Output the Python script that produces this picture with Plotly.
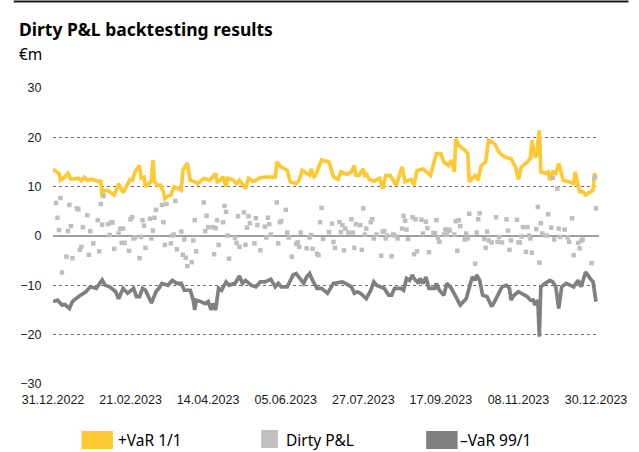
import pandas as pd
import plotly.graph_objects as go

BASE_DATE = "2022-12-31"

# +VaR 1/1 (days since 31.12.2022, EUR m)
var_pos_days = [0, 3, 4, 5, 6, 8, 10, 12, 17, 19, 21, 23, 26, 29, 31, 32, 33, 34, 37, 41, 44, 47, 52, 53, 55, 58, 59, 61, 62, 65, 66, 67, 68, 70, 72, 74, 75, 77, 79, 81, 84, 86, 87, 90, 92, 95, 97, 101, 105, 109, 110, 112, 114, 116, 117, 121, 123, 125, 129, 131, 134, 136, 138, 143, 147, 149, 150, 153, 157, 159, 163, 165, 167, 170, 172, 173, 175, 176, 180, 185, 188, 191, 193, 197, 200, 202, 203, 205, 208, 209, 210, 212, 215, 219, 221, 223, 226, 230, 234, 236, 240, 242, 244, 248, 252, 253, 257, 260, 262, 265, 267, 269, 270, 272, 276, 278, 279, 281, 283, 285, 287, 290, 292, 296, 299, 301, 303, 307, 310, 312, 314, 318, 320, 321, 323, 324, 326, 327, 330, 332, 333, 335, 337, 339, 342, 346, 349, 350, 353, 355, 357, 362, 363, 364]
var_pos_vals = [13.5, 13.0, 12.7, 11.3, 11.5, 12.0, 12.7, 11.5, 11.7, 11.2, 11.9, 11.3, 11.5, 11.1, 11.0, 11.3, 7.8, 9.2, 9.2, 8.3, 10.6, 8.8, 11.7, 11.1, 13.0, 14.3, 11.7, 11.9, 10.0, 10.8, 11.3, 15.4, 11.0, 10.3, 10.3, 9.0, 7.6, 8.1, 8.3, 10.0, 9.6, 9.3, 13.3, 14.8, 11.3, 11.0, 10.6, 11.7, 11.3, 12.7, 11.0, 11.3, 12.0, 10.0, 11.7, 11.3, 10.6, 11.3, 9.6, 11.7, 11.1, 11.3, 11.7, 12.0, 11.9, 12.0, 15.0, 14.0, 13.3, 11.0, 10.6, 11.3, 13.3, 12.7, 12.3, 13.6, 12.0, 12.3, 15.4, 15.0, 12.0, 11.5, 13.0, 12.5, 13.0, 14.3, 12.3, 12.3, 13.6, 12.0, 12.7, 11.5, 11.1, 11.7, 9.6, 12.3, 12.3, 10.3, 14.0, 11.0, 11.5, 10.3, 13.3, 13.6, 12.7, 12.3, 16.7, 16.7, 15.0, 14.3, 15.4, 13.0, 19.7, 18.4, 17.4, 16.7, 11.0, 11.7, 12.3, 11.3, 14.3, 15.0, 19.4, 18.7, 17.0, 16.4, 16.0, 15.7, 14.0, 11.5, 14.0, 15.0, 15.7, 19.4, 16.0, 16.4, 21.4, 13.0, 12.7, 13.0, 11.3, 13.0, 12.7, 14.7, 11.3, 11.0, 10.6, 13.0, 9.0, 9.0, 8.3, 9.3, 12.7, 11.7]

# -VaR 99/1
var_neg_days = [0, 3, 6, 8, 11, 13, 17, 20, 22, 25, 29, 32, 33, 35, 38, 42, 44, 47, 50, 54, 56, 58, 60, 62, 65, 66, 69, 71, 73, 77, 80, 83, 86, 88, 92, 94, 95, 96, 99, 102, 104, 106, 107, 109, 111, 113, 116, 118, 122, 125, 127, 129, 133, 136, 139, 142, 146, 149, 151, 153, 157, 159, 161, 163, 165, 168, 170, 172, 174, 177, 180, 183, 184, 188, 192, 194, 196, 200, 202, 204, 206, 210, 213, 215, 217, 220, 222, 225, 227, 229, 233, 235, 237, 239, 241, 242, 245, 246, 248, 250, 252, 256, 257, 259, 262, 264, 267, 270, 273, 277, 279, 281, 283, 284, 286, 288, 291, 294, 296, 300, 301, 304, 306, 307, 309, 312, 316, 318, 320, 322, 323, 325, 326, 327, 330, 333, 335, 337, 339, 341, 344, 347, 349, 352, 354, 356, 357, 360, 362, 364]
var_neg_vals = [-13.3, -13.0, -14.0, -13.9, -14.7, -13.3, -12.3, -11.6, -11.3, -10.3, -10.6, -9.3, -8.9, -10.0, -10.3, -11.3, -12.7, -10.6, -11.6, -10.6, -12.3, -12.3, -10.6, -11.0, -12.7, -13.6, -11.3, -10.6, -9.6, -10.0, -9.0, -9.6, -9.6, -11.0, -11.0, -13.0, -15.0, -13.0, -13.3, -13.7, -13.3, -15.0, -13.7, -15.0, -10.6, -11.0, -9.3, -10.0, -9.6, -8.1, -9.6, -9.0, -10.0, -10.3, -9.3, -9.3, -8.8, -10.3, -9.6, -10.3, -10.3, -9.0, -7.9, -7.6, -8.3, -9.6, -8.3, -7.6, -9.0, -10.6, -10.6, -11.3, -11.6, -9.6, -9.3, -9.3, -9.6, -10.3, -11.6, -11.3, -11.6, -12.7, -11.0, -9.3, -10.0, -10.3, -10.6, -12.0, -12.0, -10.6, -10.6, -11.0, -8.6, -9.0, -7.9, -8.6, -9.6, -8.6, -9.6, -8.3, -10.6, -10.6, -9.6, -11.0, -12.0, -9.6, -10.6, -12.3, -14.0, -12.7, -10.6, -8.3, -9.0, -7.9, -9.0, -12.0, -12.3, -14.3, -13.3, -10.6, -10.3, -10.0, -10.6, -13.0, -12.0, -11.3, -12.0, -12.3, -13.0, -13.0, -14.0, -13.0, -20.4, -10.3, -9.6, -9.0, -9.3, -10.3, -14.7, -10.3, -9.6, -10.0, -10.3, -9.0, -10.3, -8.3, -7.3, -8.6, -9.3, -13.3]

# Dirty P&L
pnl_days = [2, 3, 4, 5, 6, 9, 10, 11, 12, 13, 16, 17, 18, 19, 20, 23, 24, 25, 27, 30, 31, 32, 33, 34, 37, 38, 39, 40, 41, 44, 45, 46, 47, 48, 51, 52, 53, 54, 55, 58, 59, 60, 61, 62, 65, 66, 67, 68, 69, 73, 74, 75, 76, 79, 80, 81, 82, 83, 86, 87, 88, 89, 90, 93, 94, 95, 96, 101, 102, 103, 104, 107, 108, 109, 110, 111, 114, 115, 116, 117, 118,
            122, 123, 124, 125, 128, 129, 130, 131, 132, 135, 136, 137, 139, 142, 143, 144, 145, 146, 150, 151, 152, 153, 156, 157, 158, 160, 163, 164, 165, 166, 170, 172, 173, 174, 177, 178, 179, 180, 181,
            185, 187, 188, 189, 192, 193, 194, 195, 196, 198, 200, 201, 202, 203, 206, 207, 208, 209, 210, 213, 214, 215, 217, 220, 221, 222, 223, 224, 227, 228, 229, 231, 234, 235, 236, 237, 238, 241, 242, 243, 244,
            247, 248, 250, 251, 252, 255, 256, 257, 258, 259, 262, 263, 264, 265, 266, 269, 270, 271, 272, 273, 276, 277, 278, 279, 283, 284, 285, 286, 289, 290, 291, 292, 294, 297, 298, 299, 301, 304, 305,
            306, 307, 311, 312, 313, 314, 315, 317, 318, 319, 320, 321, 324, 325, 326, 327, 328, 331, 332, 334, 335, 336, 338, 339, 340, 343, 345, 346, 348, 349, 352, 353, 354, 355, 361, 363, 364]
pnl_vals = [6.7, 3.7, 1.2, 7.7, -7.4, -4.2, 1.0, 6.3, 2.0, -4.5, 5.6, 5.4, -2.8, -2.2, 1.8, 4.2, -3.8, 1.0, -1.5, 3.2, -3.1, 6.5, 2.3, 8.1, 2.4, 0.2, 2.8, 2.7, -2.6, 0.5, 1.5, -1.4, 1.5, -1.4, -3.0, 3.4, 3.8, -0.5, -0.3, -4.5, -0.2, 3.2, 2.1, -2.4, 3.5, -0.5, 1.1, 3.7, 5.3, 6.3, 2.8, -1.8, 6.5, -1.5, 0.1, 0.3, 7.1, -2.7, 0.9, -3.8, -0.7, -4.4, -6.1, -5.3, -0.9, 3.2, -3.1, 6.8, 1.0, 4.1, 1.8, 1.8, -3.7, 1.6, 3.2, -1.8, 2.8, 6.1, 4.9, 0.1, -4.6,
            -0.4, -1.4, 4.0, -2.2, 4.8, -1.8, 1.7, 4.0, 2.6, -1.5, 3.6, 2.2, -2.9, 1.9, -0.3, 3.7, 2.4, 0.3, 6.8, -1.5, 2.8, 3.0, 5.3, 0.7, -0.3, -4.2, -1.6, -1.3, -2.2, 0.7, -2.5, -0.3, 0.2, -2.6, -3.6, -3.9, 2.8, 5.7, -0.6,
            0.8, 2.5, -1.2, -2.4, 2.8, 0.8, 2.2, -2.9, 1.5, 0.7, 3.4, 0.7, -2.4, 2.4, 2.2, -2.8, 5.6, 0.3, 1.5, 2.8, 3.4, -0.5, 0.3, -4.0, 0.9, 1.0, -0.5, 0.1, -4.1, 0.3, 0.1, -0.5, 1.5, 4.1, 3.1, 1.3, -0.6, 3.8, -3.7, 3.4, -3.1,
            3.3, 0.5, 2.9, 1.6, -3.3, 0.6, 0.6, 3.2, -0.4, -1.2, 0.3, 1.3, 0.3, 1.3, 1.1, 0.3, 3.0, -3.0, 3.2, 2.0, -0.7, 0.5, -0.5, 4.5, -5.6, 0.7, 3.4, 4.6, -0.6, -2.4, 0.9, -0.9, -1.3, 3.8, -1.2, -0.2, -1.3, 3.4, 1.1,
            -2.8, -0.9, 3.3, -1.3, -1.3, -0.1, 1.8, -3.2, 1.8, 0.1, -0.5, -3.4, 1.4, 5.9, -5.4, 2.6, 0.5, 0.1, 4.4, 1.7, 11.8, -0.7, 9.6, 1.5, -0.2, 1.3, -0.3, -1.2, 3.6, -3.9, -1.4, -2.5, -1.0, -0.7, -5.5, 11.8, 5.6]

x_tick_dates = ["2022-12-31", "2023-02-21", "2023-04-14", "2023-06-05", "2023-07-27", "2023-09-17", "2023-11-08", "2023-12-30"]
x_tick_labels = ["31.12.2022", "21.02.2023", "14.04.2023", "05.06.2023", "27.07.2023", "17.09.2023", "08.11.2023", "30.12.2023"]
y_ticks = [-30, -20, -10, 0, 10, 20, 30]

series_names = ["+VaR 1/1", "Dirty P&L", "\u2013VaR 99/1"]
YELLOW = "#FFC933"
LIGHT = "#BFBFBF"
DARK = "#808080"

base = pd.Timestamp(BASE_DATE)
def to_dates(days):
    return [(base + pd.Timedelta(days=d)).strftime("%Y-%m-%d") for d in days]

fig = go.Figure()
fig.add_trace(go.Scatter(x=to_dates(var_pos_days), y=var_pos_vals, mode="lines",
                         line=dict(color=YELLOW, width=3.7), name=series_names[0]))
fig.add_trace(go.Scatter(x=to_dates(var_neg_days), y=var_neg_vals, mode="lines",
                         line=dict(color=DARK, width=3.7), name=series_names[2]))
fig.add_trace(go.Scatter(x=to_dates(pnl_days), y=pnl_vals, mode="markers",
                         marker=dict(symbol="square", size=4.5, color=LIGHT), name=series_names[1]))

W, H = 639, 452
L, R, T, B = 53, 30, 88, 68
PW, PH = W - L - R, H - T - B
def px_x(px):
    return (px - L) / PW
def px_y(py):
    return (H - B - py) / PH

TEXT_FONT = "Noto Sans"
shapes = [dict(type="line", xref="paper", yref="paper", x0=px_x(13), x1=px_x(639),
               y0=px_y(1.5), y1=px_y(1.5), line=dict(color="#1a1a1a", width=2))]
annotations = [
    dict(text="<b>Dirty P&L backtesting results</b>", xref="paper", yref="paper",
         x=px_x(16), y=px_y(29), xanchor="left", yanchor="middle", showarrow=False,
         font=dict(family=TEXT_FONT, size=17.5, color="#000")),
    dict(text="\u20acm", xref="paper", yref="paper", x=px_x(16), y=px_y(54), xanchor="left",
         yanchor="middle", showarrow=False, font=dict(family=TEXT_FONT, size=15.5, color="#000")),
]
legend_items = [(82, 114, 431, 449, YELLOW, 117), (265, 282, 430, 448, LIGHT, 288), (433, 465, 431, 449, DARK, 465)]
for (x0, x1, y0, y1, col, tx), name in zip(legend_items, series_names):
    shapes.append(dict(type="rect", xref="paper", yref="paper", x0=px_x(x0), x1=px_x(x1),
                       y0=px_y(y1), y1=px_y(y0), fillcolor=col, line=dict(width=0)))
    annotations.append(dict(text=name, xref="paper", yref="paper", x=px_x(tx), y=px_y(440),
                            xanchor="left", yanchor="middle", showarrow=False,
                            font=dict(family=TEXT_FONT, size=15.5, color="#000")))

fig.update_layout(
    width=W, height=H, margin=dict(l=L, r=R, t=T, b=B),
    paper_bgcolor="white", plot_bgcolor="white", showlegend=False,
    shapes=shapes, annotations=annotations,
    xaxis=dict(type="date", range=["2022-12-31", "2024-01-01"], tickvals=x_tick_dates, ticktext=x_tick_labels,
               showgrid=False, zeroline=False, showline=False, ticks="outside", ticklen=4,
               tickcolor="rgba(0,0,0,0)", tickfont=dict(family="Liberation Sans", size=12.5, color="#1a1a1a")),
    yaxis=dict(range=[-30, 30], tickvals=y_ticks, showgrid=True, griddash="dot", gridcolor="#6e6e6e",
               gridwidth=1, zeroline=True, zerolinecolor="#a0a0a0", zerolinewidth=2, showline=False,
               ticks="outside", ticklen=8, tickcolor="rgba(0,0,0,0)",
               tickfont=dict(family="Liberation Sans", size=12.5, color="#1a1a1a")),
)
fig.write_html("out.html", config={"displayModeBar": False},
               post_script="document.body.style.margin='0';document.body.style.overflow='hidden';")
